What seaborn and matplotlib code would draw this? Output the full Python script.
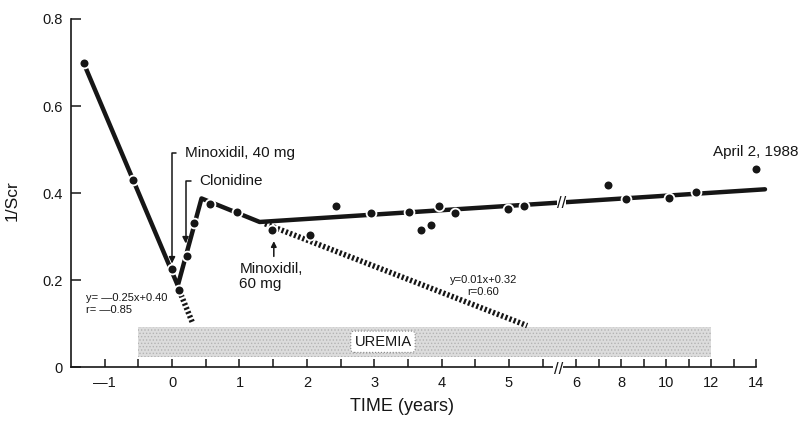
import numpy as np
import seaborn as sns
import matplotlib.pyplot as plt

# 1/Scr measurements (time in years, axis is broken after year 6)
years = [-1.31, -0.58, 0.0, 0.10, 0.22, 0.32, 0.56, 0.97, 1.49, 2.05, 2.43, 2.95,
         3.52, 3.70, 3.84, 3.96, 4.20, 4.99, 5.22, 7.40, 8.23, 10.13, 11.34, 14.0]
inv_scr = [0.698, 0.430, 0.225, 0.178, 0.255, 0.331, 0.376, 0.356, 0.315, 0.305, 0.370, 0.354,
           0.357, 0.315, 0.328, 0.371, 0.354, 0.363, 0.370, 0.420, 0.386, 0.388, 0.402, 0.455]

# solid course line
trend_x = [-1.31, 0.085, 0.437, 1.30, 14.4]
trend_y = [0.698, 0.188, 0.388, 0.334, 0.409]

# dotted projections towards uremia
proj1_x = [0.085, 0.31]
proj1_y = [0.185, 0.100]
proj2_x = [1.38, 5.27]
proj2_y = [0.330, 0.096]

# uremia band
uremia_x = [-0.5, 12.0]
uremia_lo = 0.023
uremia_hi = 0.094

xticks = [-1, 0, 1, 2, 3, 4, 5, 6, 8, 10, 12, 14]
xticklabels = ["—1", "0", "1", "2", "3", "4", "5", "6", "8", "10", "12", "14"]
xminor = [-0.5, 0.5, 1.5, 2.5, 3.5, 4.5, 5.5, 7, 9, 11, 13]
yticks = [0, 0.2, 0.4, 0.6, 0.8]
yticklabels = ["0", "0.2", "0.4", "0.6", "0.8"]


def fwd(x):
    x = np.asarray(x, dtype=float)
    return np.where(x <= 6, x, 6 + (x - 6) / 3)


def inv(u):
    u = np.asarray(u, dtype=float)
    return np.where(u <= 6, u, 6 + (u - 6) * 3)


sns.set_style("ticks")
plt.rcParams['font.family'] = ['Liberation Sans', 'DejaVu Sans']
plt.rcParams['hatch.linewidth'] = 0.6

ink = "#161616"
fig = plt.figure(figsize=(8, 4.24), dpi=100)
ax = fig.add_axes([0.08875, 0.1333, 0.85625, 0.822])
ax.set_xscale('function', functions=(fwd, inv))

# uremia band
ax.fill_between(uremia_x, uremia_lo, uremia_hi, facecolor="#dcdcdc", hatch=".....",
                edgecolor="#b3b3b3", linewidth=0, zorder=1)
ax.text(3.13, 0.059, "UREMIA", ha="center", va="center", fontsize=10.5, color=ink,
        bbox=dict(boxstyle="round,pad=0.25", fc="white", ec="#888888", lw=0.8, ls=":"), zorder=3)

# lines
sns.lineplot(x=proj1_x, y=proj1_y, sort=False, estimator=None, color=ink, lw=4,
             linestyle=(0, (0.4, 0.4)), ax=ax, zorder=2)
sns.lineplot(x=proj2_x, y=proj2_y, sort=False, estimator=None, color=ink, lw=4,
             linestyle=(0, (0.4, 0.4)), ax=ax, zorder=2)
sns.lineplot(x=trend_x, y=trend_y, sort=False, estimator=None, color=ink, lw=3.2,
             ax=ax, zorder=3, clip_on=False)

# points
sns.scatterplot(x=years, y=inv_scr, s=50, color=ink, edgecolor="white", linewidth=1.3,
                ax=ax, zorder=4, clip_on=False)

# annotations
arrow = dict(arrowstyle="-|>", connectionstyle="angle,angleA=180,angleB=90,rad=0",
             relpos=(0, 0.5), shrinkA=4, shrinkB=0, lw=1.1, color=ink, mutation_scale=9)
ax.annotate("Minoxidil, 40 mg", xy=(0.0, 0.239), xytext=(0.19, 0.492), ha="left", va="center",
            fontsize=11, color=ink, arrowprops=arrow)
ax.annotate("Clonidine", xy=(0.20, 0.285), xytext=(0.41, 0.427), ha="left", va="center",
            fontsize=11, color=ink, arrowprops=arrow)
ax.annotate("", xy=(1.51, 0.29), xytext=(1.51, 0.255),
            arrowprops=dict(arrowstyle="-|>", shrinkA=0, shrinkB=0, lw=1.1, color=ink,
                            mutation_scale=8))
ax.text(1.0, 0.242, "Minoxidil,\n60 mg", ha="left", va="top", fontsize=11, color=ink,
        linespacing=1.1)
ax.text(14.0, 0.495, "April 2, 1988", ha="center", va="center", fontsize=11, color=ink)
ax.text(-1.28, 0.146, "y= —0.25x+0.40\nr= —0.85", ha="left", va="center", fontsize=8,
        color=ink, linespacing=1.25)
ax.text(4.62, 0.188, "y=0.01x+0.32\nr=0.60", ha="center", va="center", fontsize=8,
        color=ink, linespacing=1.25, multialignment="center")

# axis breaks
brk = dict(boxstyle="square,pad=0.02", fc="white", ec="none")
ax.text(5.73, -0.004, "//", ha="center", va="center", fontsize=12, color=ink, bbox=brk,
        zorder=5, clip_on=False)
ax.text(5.78, 0.377, "//", ha="center", va="center", fontsize=12, color=ink, bbox=brk,
        zorder=5)

ax.set_xlim(-1.5, 14)
ax.set_ylim(0, 0.8)
ax.set_xticks(xticks)
ax.set_xticklabels(xticklabels)
ax.set_xticks(xminor, minor=True)
ax.set_yticks(yticks)
ax.set_yticklabels(yticklabels)
ax.tick_params(axis="x", which="both", direction="in", length=6, width=1.1, color=ink,
               labelsize=10.5, pad=6, labelcolor=ink)
ax.tick_params(axis="y", direction="in", length=7.5, width=1.1, color=ink,
               labelsize=10.5, pad=6, labelcolor=ink)
sns.despine(ax=ax)
for side in ["left", "bottom"]:
    ax.spines[side].set_color(ink)
    ax.spines[side].set_linewidth(1.2)

ax.set_xlabel("TIME (years)", fontsize=13, color=ink)
ax.xaxis.set_label_coords(0.483, -0.088)
ax.set_ylabel("1/Scr", fontsize=12.5, color=ink)
ax.yaxis.set_label_coords(-0.075, 0.48)

fig.savefig("out.png", dpi=100)
